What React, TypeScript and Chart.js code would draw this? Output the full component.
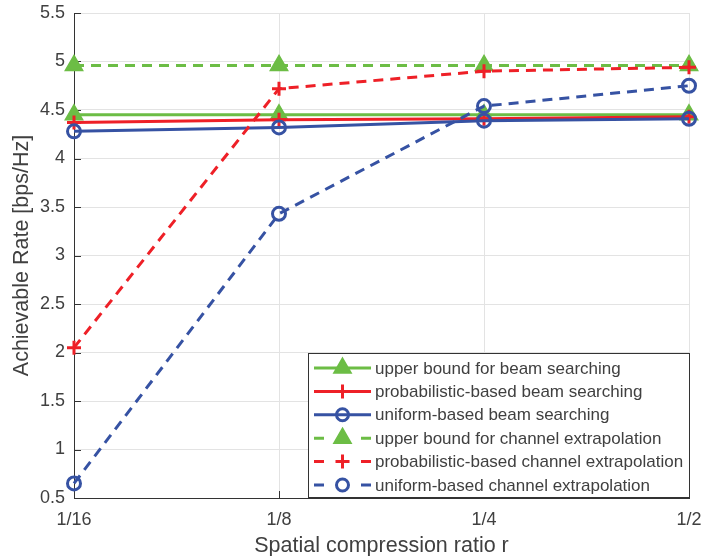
import React, { useEffect, useRef } from "react";
import { Chart, registerables } from "chart.js";

Chart.register(...registerables);

const categories = ["1/16", "1/8", "1/4", "1/2"];
const upperBeam = [4.45, 4.45, 4.45, 4.45];
const probBeam = [4.37, 4.4, 4.41, 4.43];
const uniBeam = [4.28, 4.32, 4.39, 4.41];
const upperChan = [4.96, 4.96, 4.96, 4.96];
const probChan = [2.05, 4.72, 4.9, 4.94];
const uniChan = [0.65, 3.43, 4.54, 4.75];

const seriesNames = [
  "upper bound for beam searching",
  "probabilistic-based beam searching",
  "uniform-based beam searching",
  "upper bound for channel extrapolation",
  "probabilistic-based channel extrapolation",
  "uniform-based channel extrapolation",
];

const GREEN = "#6cbd45";
const RED = "#ee2027";
const BLUE = "#3652a3";
const TEXT = "#404040";
const FONT = "'Liberation Sans', Arial, sans-serif";

type Marker = "triangle" | "cross" | "circle";

function drawMarker(ctx: CanvasRenderingContext2D, kind: Marker, x: number, y: number, color: string) {
  ctx.save();
  ctx.setLineDash([]);
  ctx.strokeStyle = color;
  ctx.fillStyle = color;
  ctx.lineWidth = 3;
  if (kind === "triangle") {
    const r = 10;
    ctx.beginPath();
    ctx.moveTo(x, y - r);
    ctx.lineTo(x + r * 0.866, y + r * 0.5);
    ctx.lineTo(x - r * 0.866, y + r * 0.5);
    ctx.closePath();
    ctx.fill();
    ctx.lineWidth = 1.5;
    ctx.stroke();
  } else if (kind === "cross") {
    const r = 7;
    ctx.beginPath();
    ctx.moveTo(x - r, y);
    ctx.lineTo(x + r, y);
    ctx.moveTo(x, y - r);
    ctx.lineTo(x, y + r);
    ctx.stroke();
  } else {
    ctx.beginPath();
    ctx.arc(x, y, 6, 0, Math.PI * 2);
    ctx.stroke();
  }
  ctx.restore();
}

const legendSpec: { color: string; dashed: boolean; marker: Marker }[] = [
  { color: GREEN, dashed: false, marker: "triangle" },
  { color: RED, dashed: false, marker: "cross" },
  { color: BLUE, dashed: false, marker: "circle" },
  { color: GREEN, dashed: true, marker: "triangle" },
  { color: RED, dashed: true, marker: "cross" },
  { color: BLUE, dashed: true, marker: "circle" },
];

const innerTicks = {
  id: "innerTicks",
  beforeDatasetsDraw(chart: any) {
    const { ctx, chartArea } = chart;
    const xs = chart.scales.x;
    const ys = chart.scales.y;
    ctx.save();
    ctx.strokeStyle = "#333";
    ctx.lineWidth = 1;
    ys.ticks.forEach((t: any) => {
      const y = Math.round(ys.getPixelForValue(t.value)) + 0.5;
      ctx.beginPath();
      ctx.moveTo(chartArea.left, y);
      ctx.lineTo(chartArea.left + 7, y);
      ctx.stroke();
    });
    xs.ticks.forEach((_t: any, i: number) => {
      const x = Math.round(xs.getPixelForTick(i)) + 0.5;
      ctx.beginPath();
      ctx.moveTo(x, chartArea.bottom);
      ctx.lineTo(x, chartArea.bottom - 7);
      ctx.stroke();
    });
    ctx.restore();
  },
};

const insideLegend = {
  id: "insideLegend",
  afterDatasetsDraw(chart: any) {
    const { ctx, chartArea } = chart;
    const right = chartArea.right;
    const bottom = chartArea.bottom - 1;
    const left = right - 381;
    const top = bottom - 144;
    ctx.save();
    ctx.fillStyle = "#ffffff";
    ctx.fillRect(left, top, right - left, bottom - top);
    ctx.strokeStyle = "#333";
    ctx.lineWidth = 1;
    ctx.strokeRect(Math.round(left) + 0.5, Math.round(top) + 0.5, right - left, bottom - top);
    ctx.font = `17px ${FONT}`;
    ctx.textBaseline = "middle";
    ctx.textAlign = "left";
    const rowH = 23.4;
    const y0 = top + 15;
    legendSpec.forEach((s, i) => {
      const y = y0 + i * rowH;
      const x1 = left + 6;
      const x2 = left + 63;
      const xm = (x1 + x2) / 2;
      ctx.strokeStyle = s.color;
      ctx.lineWidth = 3;
      ctx.setLineDash([]);
      ctx.beginPath();
      if (s.dashed) {
        ctx.moveTo(x1, y);
        ctx.lineTo(x1 + 10, y);
        ctx.moveTo(x2 - 10, y);
        ctx.lineTo(x2, y);
      } else {
        ctx.moveTo(x1, y);
        ctx.lineTo(x2, y);
      }
      ctx.stroke();
      drawMarker(ctx, s.marker, xm, y, s.color);
      ctx.fillStyle = TEXT;
      ctx.fillText(seriesNames[i], left + 67, y + 1);
    });
    ctx.restore();
  },
};

export default function App() {
  const ref = useRef<HTMLCanvasElement>(null);
  useEffect(() => {
    document.body.style.margin = "0";
    const ctx = ref.current!.getContext("2d")!;
    const mk = (i: number, data: number[], color: string, dashed: boolean, marker: Marker) => ({
      label: seriesNames[i],
      data,
      borderColor: color,
      backgroundColor: color,
      borderWidth: 3,
      borderDash: dashed ? [10, 7] : [],
      borderCapStyle: "butt",
      pointStyle: marker === "triangle" ? "triangle" : marker === "cross" ? "cross" : "circle",
      pointRadius: marker === "triangle" ? 10 : marker === "cross" ? 7 : 6.5,
      pointBorderWidth: marker === "triangle" ? 1.5 : 3,
      pointBackgroundColor: marker === "circle" ? "rgba(0,0,0,0)" : color,
      pointBorderColor: color,
      tension: 0,
      clip: false,
      order: 10 - i,
    });
    const chart = new Chart(ctx, {
      type: "line",
      data: {
        labels: categories,
        datasets: [
          mk(0, upperBeam, GREEN, false, "triangle"),
          mk(1, probBeam, RED, false, "cross"),
          mk(2, uniBeam, BLUE, false, "circle"),
          mk(3, upperChan, GREEN, true, "triangle"),
          mk(4, probChan, RED, true, "cross"),
          mk(5, uniChan, BLUE, true, "circle"),
        ] as any,
      },
      options: {
        animation: false,
        responsive: false,
        layout: { padding: { top: 13, right: 15, left: 0, bottom: 0 } },
        plugins: { legend: { display: false }, tooltip: { enabled: false } },
        scales: {
          x: {
            type: "category",
            offset: false,
            grid: { color: "#e3e3e3", drawTicks: false },
            border: { color: "#333", width: 1 },
            ticks: { color: TEXT, font: { family: FONT, size: 18 }, padding: 11, maxRotation: 0 },
            title: {
              display: true,
              text: "Spatial compression ratio r",
              color: TEXT,
              font: { family: FONT, size: 21.5, lineHeight: 0.9 },
              padding: { top: 0, bottom: 0 },
            },
            afterFit: (s: any) => {
              s.height = 58;
              s.paddingLeft = 0;
              s.paddingRight = 0;
            },
          },
          y: {
            min: 0.5,
            max: 5.5,
            grid: { color: "#e3e3e3", drawTicks: false },
            border: { color: "#333", width: 1 },
            ticks: {
              stepSize: 0.5,
              color: TEXT,
              font: { family: FONT, size: 18 },
              padding: 9,
              callback: (v: any) => String(+v),
            },
            title: {
              display: true,
              text: "Achievable Rate [bps/Hz]",
              color: TEXT,
              font: { family: FONT, size: 21.5 },
              padding: { top: 9, bottom: 0 },
            },
            afterFit: (s: any) => {
              s.width = 74;
              s.paddingTop = 0;
              s.paddingBottom = 0;
            },
          },
        },
      },
      plugins: [innerTicks, insideLegend],
    });
    return () => chart.destroy();
  }, []);
  return (
    <div style={{ width: 704, height: 556 }}>
      <canvas ref={ref} width={704} height={556} style={{ display: "block" }} />
    </div>
  );
}
